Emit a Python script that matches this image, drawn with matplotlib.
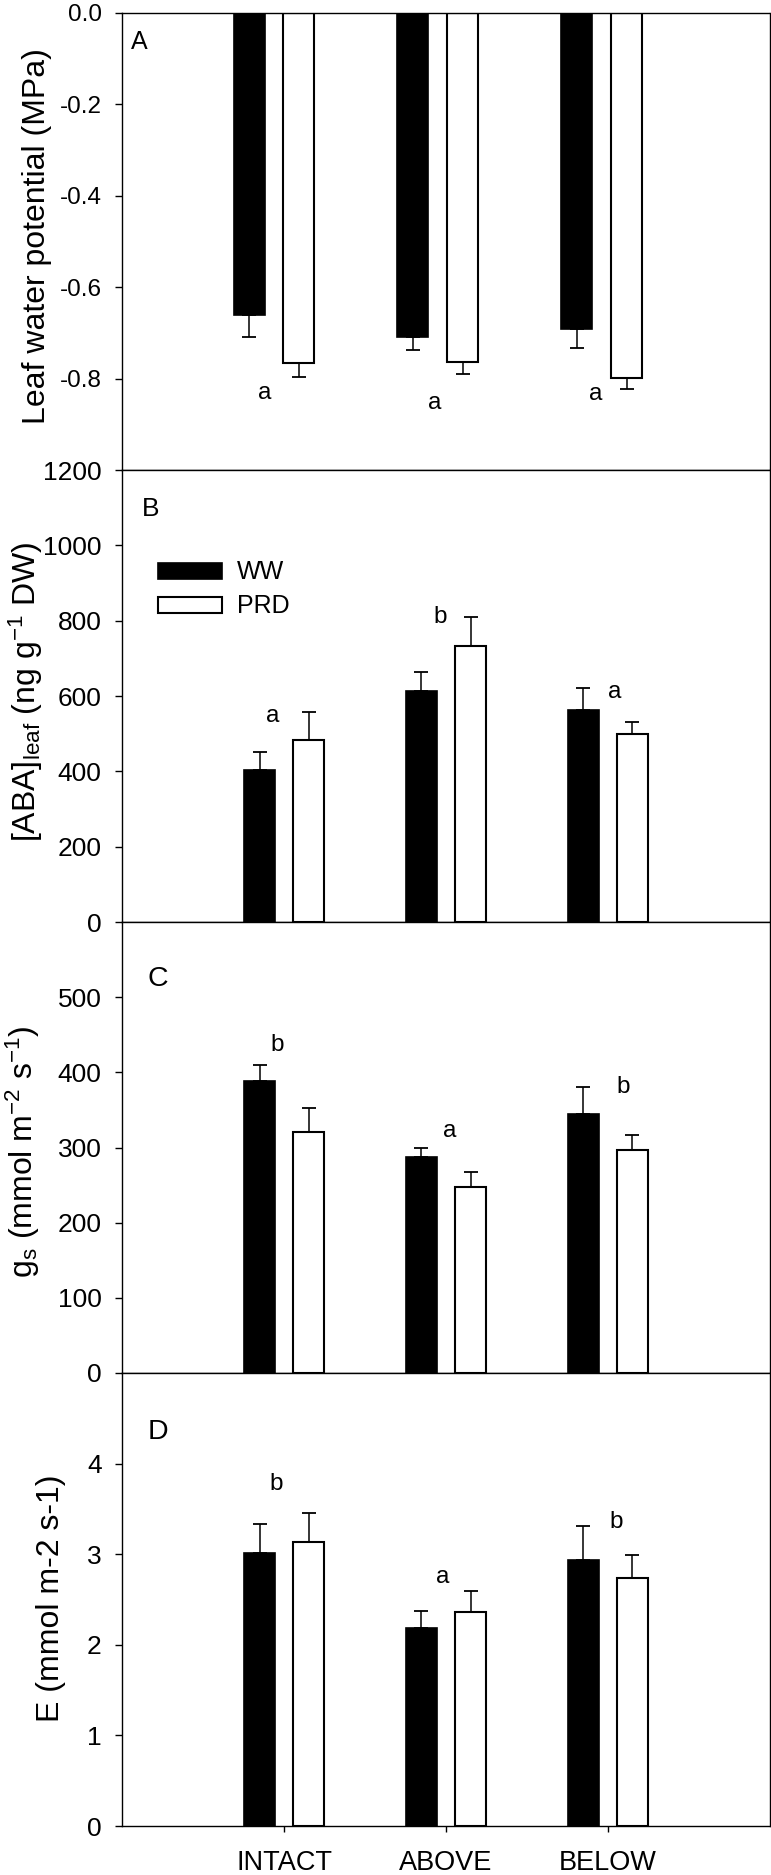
import matplotlib
matplotlib.use('Agg')
import matplotlib.pyplot as plt
import numpy as np
from matplotlib.ticker import FormatStrFormatter

plt.rcParams['font.family'] = ['Liberation Sans', 'DejaVu Sans']
plt.rcParams['mathtext.fontset'] = 'custom'
plt.rcParams['mathtext.rm'] = 'Liberation Sans'
plt.rcParams['mathtext.it'] = 'Liberation Sans:italic'
plt.rcParams['mathtext.default'] = 'regular'

sites = ['INTACT', 'ABOVE', 'BELOW']
treatments = ['WW', 'PRD']

# A - leaf water potential (MPa)
psi_ww = [-0.66, -0.71, -0.692]
psi_ww_se = [0.05, 0.028, 0.04]
psi_prd = [-0.765, -0.763, -0.798]
psi_prd_se = [0.032, 0.026, 0.024]
psi_letters = ['a', 'a', 'a']
psi_ticks = [-0.8, -0.6, -0.4, -0.2, 0.0]

# B - leaf ABA (ng g-1 DW)
aba_ww = [403, 612, 562]
aba_ww_se = [49, 51, 60]
aba_prd = [483, 732, 498]
aba_prd_se = [74, 77, 34]
aba_letters = ['a', 'b', 'a']
aba_ticks = [0, 200, 400, 600, 800, 1000, 1200]

# C - stomatal conductance (mmol m-2 s-1)
gs_ww = [388, 287, 345]
gs_ww_se = [22, 12, 35]
gs_prd = [321, 248, 297]
gs_prd_se = [31, 19, 19]
gs_letters = ['b', 'a', 'b']
gs_ticks = [0, 100, 200, 300, 400, 500]

# D - transpiration (mmol m-2 s-1)
e_ww = [3.01, 2.19, 2.94]
e_ww_se = [0.32, 0.18, 0.37]
e_prd = [3.13, 2.36, 2.74]
e_prd_se = [0.33, 0.23, 0.25]
e_letters = ['b', 'a', 'b']
e_ticks = [0, 1, 2, 3, 4]

x = np.arange(1, len(sites) + 1)
width = 0.19
off = 0.152

fig = plt.figure(figsize=(7.71, 18.75), dpi=100)
H = 1875.0
L, W = 122.5 / 771, 647 / 771


def make_axes(top_px, bot_px):
    return fig.add_axes([L, 1 - bot_px / H, W, (bot_px - top_px) / H])


panels = [
    dict(ax=make_axes(13, 470), ww=psi_ww, wwe=psi_ww_se, prd=psi_prd, prde=psi_prd_se,
         letters=psi_letters, let_dx=[-0.055, -0.021, -0.037], let_y=[-0.832, -0.853, -0.834],
         ylim=(-1.0, 0.0), yticks=psi_ticks, tickfs=17.5,
         ylabel='Leaf water potential (MPa)', lab_xy=(-0.132, 0.512),
         tag='A', tag_xy=(0.013, 0.937), tagfs=18, xlim=(0.075, 4.025)),
    dict(ax=make_axes(470, 922), ww=aba_ww, wwe=aba_ww_se, prd=aba_prd, prde=aba_prd_se,
         letters=aba_letters, let_dx=[-0.072, -0.037, 0.04], let_y=[548, 810, 610],
         ylim=(0, 1200), yticks=aba_ticks, tickfs=19,
         ylabel=r'[ABA]$_{leaf}$ (ng g$^{-1}$ DW)', lab_xy=(-0.149, 0.51),
         tag='B', tag_xy=(0.030, 0.913), tagfs=19, xlim=(0, 4)),
    dict(ax=make_axes(922, 1373), ww=gs_ww, wwe=gs_ww_se, prd=gs_prd, prde=gs_prd_se,
         letters=gs_letters, let_dx=[-0.045, 0.025, 0.097], let_y=[437, 322, 380],
         ylim=(0, 600), yticks=gs_ticks, tickfs=19,
         ylabel=r'g$_{s}$ (mmol m$^{-2}$ s$^{-1}$)', lab_xy=(-0.154, 0.49),
         tag='C', tag_xy=(0.038, 0.874), tagfs=20.5, xlim=(0, 4)),
    dict(ax=make_axes(1373, 1826), ww=e_ww, wwe=e_ww_se, prd=e_prd, prde=e_prd_se,
         letters=e_letters, let_dx=[-0.048, -0.022, 0.05], let_y=[3.78, 2.75, 3.36],
         ylim=(0, 5), yticks=e_ticks, tickfs=19,
         ylabel='E (mmol m-2 s-1)', lab_xy=(-0.11, 0.503),
         tag='D', tag_xy=(0.039, 0.870), tagfs=20.5, xlim=(0, 4)),
]

for i, p in enumerate(panels):
    ax = p['ax']
    neg = p['ww'][0] < 0
    zeros = [0] * len(sites)
    err_ww = [p['wwe'], zeros] if neg else [zeros, p['wwe']]
    err_prd = [p['prde'], zeros] if neg else [zeros, p['prde']]
    ax.bar(x - off, p['ww'], width, color='black', edgecolor='black', linewidth=1.2,
           label=treatments[0], zorder=2)
    ax.bar(x + off, p['prd'], width, color='white', edgecolor='black', linewidth=1.5,
           label=treatments[1], zorder=2)
    ax.errorbar(x - off, p['ww'], yerr=err_ww, fmt='none', ecolor='black',
                elinewidth=1.1, capsize=5, capthick=1.3, zorder=1)
    ax.errorbar(x + off, p['prd'], yerr=err_prd, fmt='none', ecolor='black',
                elinewidth=1.1, capsize=5, capthick=1.3, zorder=1)
    for xi, dx, ly, t in zip(x, p['let_dx'], p['let_y'], p['letters']):
        ax.text(xi + dx, ly, t, ha='center', va='center', fontsize=17.5)

    ax.set_xlim(*p['xlim'])
    ax.set_ylim(*p['ylim'])
    ax.set_yticks(p['yticks'])
    ax.set_xticks(x)
    if i == 0:
        ax.yaxis.set_major_formatter(FormatStrFormatter('%.1f'))
    if i == len(panels) - 1:
        ax.set_xticklabels(sites, fontsize=19.5)
    else:
        ax.set_xticklabels([])
    ax.tick_params(axis='y', direction='out', length=5, width=1, pad=10,
                   labelsize=p['tickfs'])
    ax.tick_params(axis='x', direction='out', length=4, width=1, pad=13)
    for s in ax.spines.values():
        s.set_linewidth(1.0)
    ax.set_ylabel(p['ylabel'], fontsize=23, va='center')
    ax.yaxis.set_label_coords(*p['lab_xy'])
    ax.text(p['tag_xy'][0], p['tag_xy'][1], p['tag'], transform=ax.transAxes,
            ha='left', va='center', fontsize=p['tagfs'])

panels[1]['ax'].legend(loc='upper left', bbox_to_anchor=(0.055, 0.80), frameon=False,
                       fontsize=18, handlelength=2.56, handleheight=0.6,
                       labelspacing=0.4, handletextpad=0.6, borderpad=0,
                       borderaxespad=0)

fig.savefig('out.png', dpi=100)
